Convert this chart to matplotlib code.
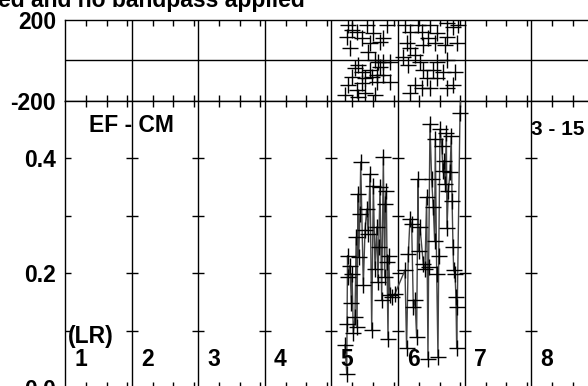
#!/usr/bin/env python3
# -*- coding: utf-8 -*-
"""Two stacked panels: scatter of crosses (top) and a cross-marked series (bottom), columns 1-8."""

import matplotlib
matplotlib.use("Agg")
import matplotlib.pyplot as plt
import numpy as np

plt.rcParams["font.family"] = ["Liberation Sans", "DejaVu Sans"]
plt.rcParams["font.weight"] = "bold"

# ---- data (x in column units, column k spans [k-1, k]) ----
n_cols = 8
col_labels = ["1", "2", "3", "4", "5", "6", "7", "8"]

# top panel: scattered crosses
top_x = [4.254, 4.305, 4.530, 4.229, 4.380, 4.630, 4.455, 4.580, 4.830, 4.780,
         4.730, 4.279, 4.555, 4.655, 4.705, 4.780, 4.880, 4.405, 4.354, 4.455,
         4.580, 4.730, 4.305, 4.505, 4.605, 4.680, 4.780, 4.254, 4.455, 4.680,
         4.880, 4.204, 4.405, 4.505, 4.655, 4.380,
         5.105, 5.305, 5.480, 5.731, 5.906, 5.180, 5.355, 5.581, 5.831, 5.455,
         5.731, 5.130, 5.180, 5.380, 5.556, 5.706, 5.881, 5.080, 5.255, 5.330,
         5.581, 5.731, 5.155, 5.380, 5.530, 5.680, 5.856, 5.430, 5.581, 5.255,
         5.355, 5.480, 5.731, 5.831, 5.180]
top_y = [175, 150, 175, 117, 142, 134, 109, 84, 175, 109,
         92, 59, 42, 1, -7, -7, -7, -24, -40, -57,
         -49, -32, -82, -90, -82, -73, -73, -123, -115, -107,
         -107, -173, -181, -165, -173, -148,
         175, 175, 175, 183, 175, 142, 142, 134, 167, 109,
         117, 84, 59, 75, 84, 75, 84, 17, 26, -7,
         -7, 1, -24, -49, -49, -57, -57, -90, -90, -123,
         -140, -140, -140, -123, -165]

# bottom panel: series
bot_x = [4.204, 4.230, 4.235, 4.242, 4.254, 4.279, 4.300, 4.310, 4.329, 4.354,
         4.372, 4.385, 4.398, 4.410, 4.429, 4.440, 4.479, 4.505, 4.529, 4.554,
         4.580, 4.605, 4.630, 4.655, 4.680, 4.700, 4.710, 4.730, 4.755, 4.780,
         4.800, 4.810, 4.825, 4.835, 4.850, 4.860, 4.880, 4.905, 4.955,
         5.105, 5.129, 5.155, 5.180, 5.205, 5.230, 5.255, 5.280, 5.300, 5.310,
         5.330, 5.380, 5.405, 5.430, 5.450, 5.460, 5.480, 5.505, 5.530, 5.550,
         5.560, 5.581, 5.600, 5.612, 5.631, 5.656, 5.676, 5.686, 5.706, 5.726,
         5.736, 5.756, 5.781, 5.800, 5.812, 5.826, 5.836, 5.856, 5.870, 5.881,
         5.890, 5.931, 5.961]
bot_y = [0.075, 0.025, 0.111, 0.230, 0.193, 0.213, 0.147, 0.199, 0.095, 0.124,
         0.262, 0.106, 0.337, 0.228, 0.303, 0.393, 0.179, 0.274, 0.311, 0.268,
         0.372, 0.101, 0.352, 0.207, 0.280, 0.184, 0.245, 0.349, 0.153, 0.402,
         0.193, 0.320, 0.343, 0.219, 0.086, 0.230, 0.161, 0.158, 0.164,
         0.205, 0.069, 0.233, 0.294, 0.285, 0.141, 0.153, 0.089, 0.363, 0.239,
         0.280, 0.216, 0.207, 0.332, 0.051, 0.210, 0.459, 0.363, 0.314, 0.256,
         0.433, 0.199, 0.054, 0.230, 0.450, 0.421, 0.378, 0.395, 0.355, 0.444,
         0.278, 0.343, 0.375, 0.438, 0.326, 0.245, 0.205, 0.199, 0.158, 0.069,
         0.141, 0.479, 0.560]

W, H = 588, 386
FS = 16.5
fig = plt.figure(figsize=(W / 100, H / 100), dpi=100)

col_w = 66.6
left = 65 / W
width = n_cols * col_w / W  # runs past the right edge (cropped view)
ax_top = fig.add_axes([left, (H - 100.5) / H, width, 80.5 / H])
ax_bot = fig.add_axes([left, (H - 388) / H, width, 287.5 / H])

minor_frac = [0.315, 0.625, 0.935]
minor_pos = [c + f for c in range(n_cols) for f in minor_frac]

for ax in (ax_top, ax_bot):
    ax.set_xlim(0, n_cols)
    for s in ax.spines.values():
        s.set_linewidth(1.0)
    ax.spines["right"].set_visible(False)
    for c in range(1, n_cols):
        ax.axvline(c, color="k", lw=1.0, zorder=1)
    ax.set_xticks(minor_pos)
    ax.set_xticklabels([])
    ax.tick_params(axis="x", which="major", direction="in", length=4.5, width=1.0,
                   top=True, bottom=True)
    ax.tick_params(axis="y", length=0, labelsize=FS, pad=6.5)

# top panel
ax_top.set_ylim(-200, 200)
ax_top.axhline(0, color="k", lw=1.0, zorder=1)
ax_top.set_yticks([-200, 200])
ax_top.set_yticklabels(["-200", "200"], fontweight="bold")
ax_top.plot(top_x, top_y, ls="none", marker="+", ms=11, mew=1.0, color="k",
            zorder=3)

# bottom panel
ax_bot.set_ylim(0, 0.5)
ax_bot.set_yticks([0.0, 0.2, 0.4])
ax_bot.set_yticklabels(["0.0", "0.2", "0.4"], fontweight="bold")
for yv in (0.1, 0.2, 0.3, 0.4):
    ax_bot.plot(np.arange(n_cols), [yv] * n_cols, ls="none", marker="_", ms=9,
                mew=1.0, color="k", zorder=2)
ax_bot.plot(bot_x, bot_y, color="#444444", lw=1.0, marker="+", ms=11, mew=1.0,
            mec="k", zorder=3)

for i, lab in enumerate(col_labels):
    ax_bot.text(i + 0.235, 0.050, lab, ha="center", va="center", fontsize=FS,
                fontweight="bold")
ax_bot.text(0.045, 0.089, "(LR)", ha="left", va="center", fontsize=FS, fontweight="bold")
ax_bot.text(0.36, 0.456, "EF - CM", ha="left", va="center", fontsize=FS, fontweight="bold")
ax_bot.text(7.0, 0.449, "3 - 15", ha="left", va="center", fontsize=15, fontweight="bold")

fig.text(-0.003, 1 - 7.5 / H, "ed and no bandpass applied", ha="left", va="baseline",
         fontsize=FS, fontweight="bold")

fig.savefig("out.png", dpi=100)
